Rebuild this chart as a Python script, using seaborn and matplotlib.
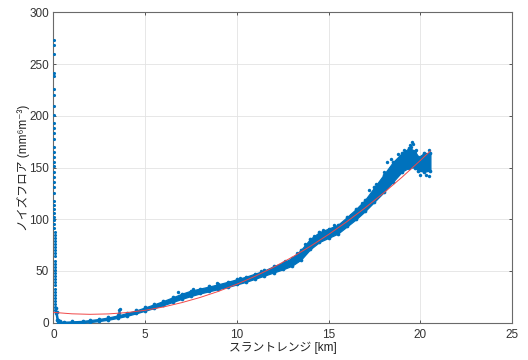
import matplotlib
matplotlib.use("Agg")
import matplotlib.pyplot as plt
import numpy as np
import pandas as pd
import seaborn as sns

# Noise floor band: slant range [km] with lower / upper edge of the scatter cloud
range_km = [0.12, 0.18, 0.25, 0.35, 0.6, 1.0, 1.6, 2.0, 2.5, 3.0, 3.5, 4.0, 4.5,
            5.0, 5.5, 6.0, 6.5, 7.0, 7.5, 8.0, 8.5, 9.0, 9.5, 10.0, 10.5, 11.0,
            11.5, 12.0, 12.5, 13.0, 13.5, 14.0, 14.5, 15.0, 15.5, 16.0, 16.5,
            17.0, 17.5, 18.0, 18.5, 19.0, 19.4, 19.7, 19.9, 20.2, 20.55]
floor_low = [9, 3, 0, -0.8, -0.8, -0.6, -0.1, 0.6, 1.6, 2.9, 4.6, 6.6, 9.0,
             11.6, 14.2, 17.0, 20.0, 23.0, 25.8, 28.3, 30.4, 32.5, 34.5, 37.0,
             39.5, 42.5, 45.5, 48.5, 51.5, 55.0, 61.0, 71.0, 78.0, 82.0, 86.0,
             93.0, 100.0, 108.0, 117.0, 126.0, 136.0, 146.0, 150.0, 150.0,
             147.0, 146.0, 147.0]
floor_high = [14, 10, 3, 1.2, 1.0, 1.3, 1.8, 2.6, 3.6, 5.1, 7.0, 9.2, 11.8,
              14.8, 17.8, 21.0, 24.5, 28.0, 31.0, 33.0, 35.0, 37.2, 39.5, 42.0,
              44.5, 47.5, 50.5, 54.5, 58.0, 62.5, 70.5, 81.0, 87.5, 91.0, 94.5,
              102.0, 110.0, 119.0, 131.0, 143.0, 155.0, 164.0, 169.0, 166.0,
              160.0, 164.0, 164.0]

# Near-range samples (clutter close to the radar)
spike_km = [0.03, 0.03, 0.03, 0.03, 0.03, 0.03, 0.03, 0.03, 0.04, 0.04,
            0.04, 0.04, 0.04, 0.04, 0.04, 0.04, 0.05, 0.05, 0.05, 0.05,
            0.05, 0.05, 0.05, 0.05, 0.06, 0.06, 0.06, 0.06, 0.06, 0.06,
            0.06, 0.07, 0.07, 0.07, 0.07, 0.07, 0.07, 0.07, 0.08, 0.08,
            0.08, 0.08, 0.08, 0.08, 0.09, 0.09, 0.09, 0.09, 0.09, 0.10,
            0.10, 0.10, 0.10, 0.10, 0.11, 0.11, 0.11]
spike_val = [273, 268, 260, 241, 238, 226, 220, 209, 201, 193,
             188, 183, 178, 170, 165, 160, 155, 151, 146, 141,
             136, 131, 125, 118, 114, 110, 106, 102, 99, 95,
             92, 88, 85, 82, 79, 76, 73, 70, 67, 64,
             60, 57, 54, 51, 48, 45, 42, 39, 36, 33,
             30, 27, 24, 21, 18, 15, 12]

# Isolated samples scattered around the main cloud
extra_km = [3.58, 3.60, 3.62, 6.8, 7.6, 8.9, 10.2, 11.3, 12.6, 13.3, 13.7,
            14.2, 14.7, 15.3, 16.2, 16.8, 17.2, 17.6, 18.0, 18.2, 18.4, 18.8,
            19.1, 19.45, 19.5, 19.55, 19.6, 19.75, 20.0, 20.3, 20.45, 20.5]
extra_val = [9.5, 12.0, 13.0, 29.5, 32.5, 38.5, 43.5, 49.5, 60.0, 67.0, 76.0,
             84.0, 90.0, 94.0, 104.0, 116.0, 128.0, 134.0, 146.0, 155.0,
             158.0, 163.0, 167.0, 172.0, 170.0, 175.0, 173.0, 167.0, 143.0,
             143.0, 142.0, 167.0]

# Fitted noise-floor curve
fit_km = [0, 1, 2, 3, 4, 5, 6, 7, 8, 9, 10, 11, 12, 13, 14, 15, 16, 17, 18,
          19, 20, 20.55]
fit_val = [10, 8.6, 8.1, 8.5, 9.8, 12.0, 15.2, 19.4, 24.4, 30.3, 37.2,
           44.9, 53.6, 63.2, 73.8, 85.3, 97.7, 111.1, 125.4, 140.6, 156.8,
           166.0]

x_ticks = [0, 5, 10, 15, 20, 25]
y_ticks = [0, 50, 100, 150, 200, 250, 300]

band = pd.DataFrame({"km": range_km, "low": floor_low, "high": floor_high})
edges = pd.DataFrame({"km": range_km + range_km, "val": floor_low + floor_high})
spikes = pd.DataFrame({"km": spike_km, "val": spike_val})
extras = pd.DataFrame({"km": extra_km, "val": extra_val})
fit = pd.DataFrame({"km": fit_km, "val": fit_val})

sns.set_style("ticks")
plt.rcParams["font.family"] = ["Liberation Sans", "Noto Sans CJK JP", "DejaVu Sans"]

BLUE = "#0072BD"
RED = "#f04848"

fig = plt.figure(figsize=(5.28, 3.6), dpi=100)
ax = fig.add_axes([0.101, 0.1036, 0.8688, 0.8622])

ax.fill_between(band["km"], band["low"], band["high"], color=BLUE,
                linewidth=0.9, edgecolor=BLUE, zorder=3)
sns.scatterplot(data=edges, x="km", y="val", ax=ax, color=BLUE, s=7,
                marker="o", linewidth=0, zorder=3)
sns.scatterplot(data=spikes, x="km", y="val", ax=ax, color=BLUE, s=5,
                marker="o", linewidth=0, zorder=3)
sns.scatterplot(data=extras, x="km", y="val", ax=ax, color=BLUE, s=6,
                marker="o", linewidth=0, zorder=3)
sns.lineplot(data=fit, x="km", y="val", ax=ax, color=RED, linewidth=0.7,
             zorder=4)

ax.set_xlim(0, 25)
ax.set_ylim(0, 300)
ax.set_xticks(x_ticks)
ax.set_yticks(y_ticks)
ax.grid(True, color="#e3e3e3", linewidth=0.6)
ax.set_axisbelow(True)

for s in ax.spines.values():
    s.set_visible(True)
    s.set_color("#6a6a6a")
    s.set_linewidth(0.8)
ax.tick_params(axis="both", direction="in", length=2.5, width=0.7,
               color="#555555", labelcolor="#333333", labelsize=8.5,
               top=True, right=True)
ax.tick_params(axis="x", pad=4.5)
ax.tick_params(axis="y", pad=3)

ax.set_xlabel("スラントレンジ [km]", fontsize=8.5, color="#222222")
ax.set_ylabel("ノイズフロア (mm⁶m⁻³)", fontsize=8.5, color="#222222")
ax.xaxis.set_label_coords(0.5, -0.062)
ax.yaxis.set_label_coords(-0.05, 0.5)

fig.savefig("out.png", dpi=100)
